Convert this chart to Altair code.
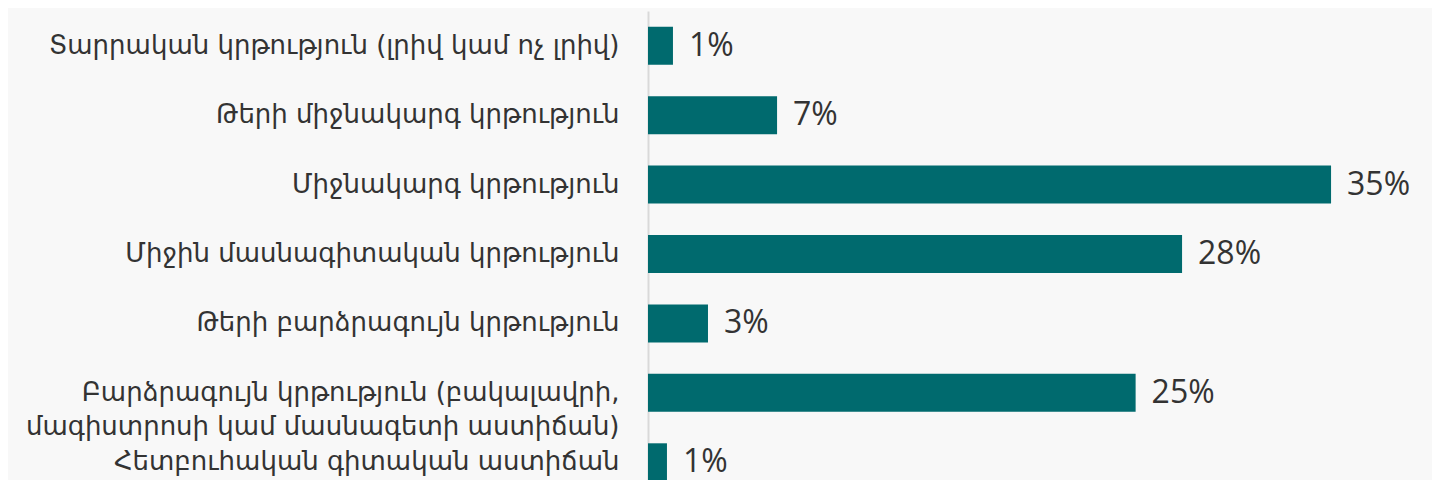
import altair as alt
import pandas as pd

categories = [
    "Տարրական կրթություն (լրիվ կամ ոչ լրիվ)",
    "Թերի միջնակարգ կրթություն",
    "Միջնակարգ կրթություն",
    "Միջին մասնագիտական կրթություն",
    "Թերի բարձրագույն կրթություն",
    "Բարձրագույն կրթություն (բակալավրի,|մագիստրոսի կամ մասնագետի աստիճան)",
    "Հետբուհական գիտական աստիճան",
]
values = [1.29, 6.67, 35.3, 27.6, 3.1, 25.2, 0.98]
value_labels = ["1%", "7%", "35%", "28%", "3%", "25%", "1%"]

df = pd.DataFrame({"cat": categories, "val": values, "lab": value_labels})

y_enc = alt.Y(
    "cat:N",
    sort=categories,
    title=None,
    scale=alt.Scale(paddingInner=0.453, paddingOuter=0.2265),
    axis=alt.Axis(
        ticks=False,
        domain=True,
        domainColor="#d9d9d9",
        domainWidth=2,
        labelPadding=29,
        labelFont="DejaVu Sans",
        labelFontSize=26,
        labelColor="#333333",
        labelLimit=700,
        labelExpr="split(datum.label, '|')",
        labelLineHeight=34,
        grid=False,
    ),
)
x_enc = alt.X(
    "val:Q",
    title=None,
    scale=alt.Scale(domain=[0, 40], nice=False),
    axis=None,
)

bars = alt.Chart(df).mark_bar(color="#006a6e").encode(y=y_enc, x=x_enc)
texts = alt.Chart(df).mark_text(
    align="left", baseline="middle", dx=16, fontSize=32,
    font="Open Sans", color="#333333"
).encode(y=alt.Y("cat:N", sort=categories), x="val:Q", text="lab:N")

chart = (
    alt.layer(bars, texts)
    .properties(
        width=774,
        height=486,
        background="#f8f8f8",
        autosize=alt.AutoSizeParams(type="none"),
        padding={"left": 640, "top": 3, "right": 10, "bottom": 0},
    )
    .configure_view(stroke=None)
)

chart.save("out.html", embed_options={"renderer": "svg", "actions": False})
